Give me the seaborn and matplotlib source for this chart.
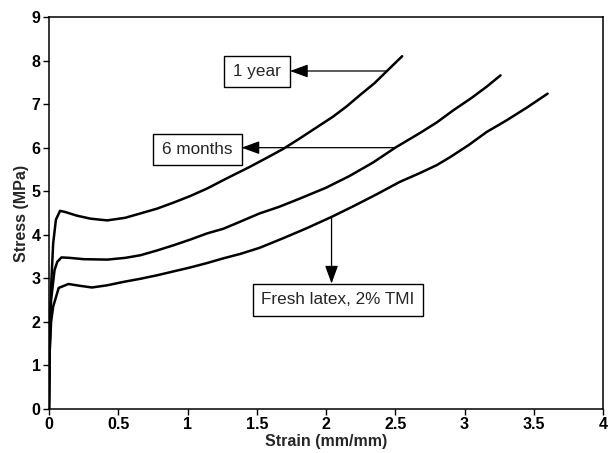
import matplotlib
matplotlib.use("Agg")
import matplotlib.pyplot as plt
from matplotlib.patches import Rectangle
import pandas as pd
import seaborn as sns

# Stress-strain curves of latex films, aged for different periods
strain_1yr = [0, 0.005, 0.015, 0.03, 0.05, 0.08, 0.12, 0.2, 0.3, 0.42, 0.55, 0.66,
              0.78, 0.90, 1.02, 1.14, 1.28, 1.45, 1.58, 1.69, 1.80, 1.92, 2.05,
              2.15, 2.25, 2.35, 2.44, 2.55]
stress_1yr = [0, 1.5, 2.8, 3.8, 4.35, 4.55, 4.52, 4.44, 4.37, 4.33, 4.39, 4.49,
              4.60, 4.74, 4.89, 5.06, 5.29, 5.56, 5.78, 5.97, 6.19, 6.44, 6.71,
              6.95, 7.22, 7.48, 7.76, 8.10]

strain_6mo = [0, 0.005, 0.015, 0.04, 0.06, 0.09, 0.15, 0.25, 0.42, 0.55, 0.66,
              0.78, 0.90, 1.02, 1.14, 1.26, 1.38, 1.52, 1.66, 1.81, 2.0, 2.17,
              2.34, 2.50, 2.68, 2.80, 2.92, 3.05, 3.16, 3.26]
stress_6mo = [0, 1.4, 2.5, 3.19, 3.38, 3.48, 3.47, 3.44, 3.43, 3.47, 3.53,
              3.64, 3.76, 3.89, 4.03, 4.14, 4.30, 4.49, 4.64, 4.83, 5.08, 5.35,
              5.66, 6.00, 6.34, 6.58, 6.86, 7.14, 7.40, 7.66]

strain_fresh = [0, 0.005, 0.015, 0.03, 0.07, 0.14, 0.22, 0.31, 0.42, 0.54, 0.66,
                0.78, 0.90, 1.02, 1.14, 1.26, 1.38, 1.52, 1.69, 1.86, 2.04, 2.20,
                2.36, 2.53, 2.68, 2.80, 2.90, 3.03, 3.16, 3.30, 3.45, 3.60]
stress_fresh = [0, 1.3, 2.0, 2.35, 2.78, 2.87, 2.83, 2.79, 2.84, 2.92, 2.99,
                3.07, 3.16, 3.25, 3.35, 3.46, 3.56, 3.70, 3.92, 4.15, 4.41, 4.66,
                4.92, 5.21, 5.42, 5.60, 5.79, 6.06, 6.36, 6.62, 6.92, 7.24]

series_names = ["1 year", "6 months", "Fresh latex, 2% TMI"]

x_ticks = [0, 0.5, 1, 1.5, 2, 2.5, 3, 3.5, 4]
x_tick_labels = ["0", "0.5", "1", "1.5", "2", "2.5", "3", "3.5", "4"]
y_ticks = [0, 1, 2, 3, 4, 5, 6, 7, 8, 9]
y_tick_labels = ["0", "1", "2", "3", "4", "5", "6", "7", "8", "9"]

frames = []
for name, xs, ys in zip(series_names,
                        [strain_1yr, strain_6mo, strain_fresh],
                        [stress_1yr, stress_6mo, stress_fresh]):
    frames.append(pd.DataFrame({"strain": xs, "stress": ys, "sample": name}))
df = pd.concat(frames, ignore_index=True)

sns.set_style("ticks")
plt.rcParams["font.family"] = ["Liberation Sans", "DejaVu Sans"]

fig = plt.figure(figsize=(6.08, 4.53), dpi=100)
ax = fig.add_axes([0.0806, 0.0971, 0.9112, 0.8654])

sns.lineplot(data=df, x="strain", y="stress", units="sample", estimator=None,
             sort=False, color="black", linewidth=1.8, legend=False, ax=ax)

ax.set_xlim(0, 4)
ax.set_ylim(0, 9)
ax.set_xticks(x_ticks)
ax.set_xticklabels(x_tick_labels, fontsize=11.5, fontweight="bold")
ax.set_yticks(y_ticks)
ax.set_yticklabels(y_tick_labels, fontsize=11.5, fontweight="bold")
ax.tick_params(direction="out", length=4, width=1, pad=2, colors="black")
for side in ["top", "right", "left", "bottom"]:
    ax.spines[side].set_visible(True)
    ax.spines[side].set_color("black")
    ax.spines[side].set_linewidth(1.1)

ax.set_xlabel("Strain (mm/mm)", fontsize=11.5, fontweight="bold", labelpad=1)
ax.set_ylabel("Stress (MPa)", fontsize=11.5, fontweight="bold", labelpad=2)

# Label boxes (data coordinates: x0, y0, x1, y1) and arrows from curve to box
labels = [
    ("1 year", (1.26, 7.39, 1.74, 8.10), (2.44, 7.76), (1.74, 7.76)),
    ("6 months", (0.75, 5.60, 1.39, 6.32), (2.50, 6.00), (1.39, 6.00)),
    ("Fresh latex, 2% TMI", (1.47, 2.13, 2.70, 2.88), (2.04, 4.41), (2.04, 2.88)),
]
for text, (x0, y0, x1, y1), start, tip in labels:
    ax.add_patch(Rectangle((x0, y0), x1 - x0, y1 - y0, facecolor="white",
                           edgecolor="black", linewidth=1.0, zorder=4))
    ax.text((x0 + x1) / 2, (y0 + y1) / 2, text, ha="center", va="center",
            fontsize=12.3, zorder=5)
    ax.annotate("", xy=tip, xytext=start,
                arrowprops=dict(arrowstyle="-|>,head_length=0.55,head_width=0.2",
                                mutation_scale=20, color="black", lw=0.9,
                                shrinkA=0, shrinkB=0),
                zorder=5)

fig.savefig("out.png", dpi=100)
